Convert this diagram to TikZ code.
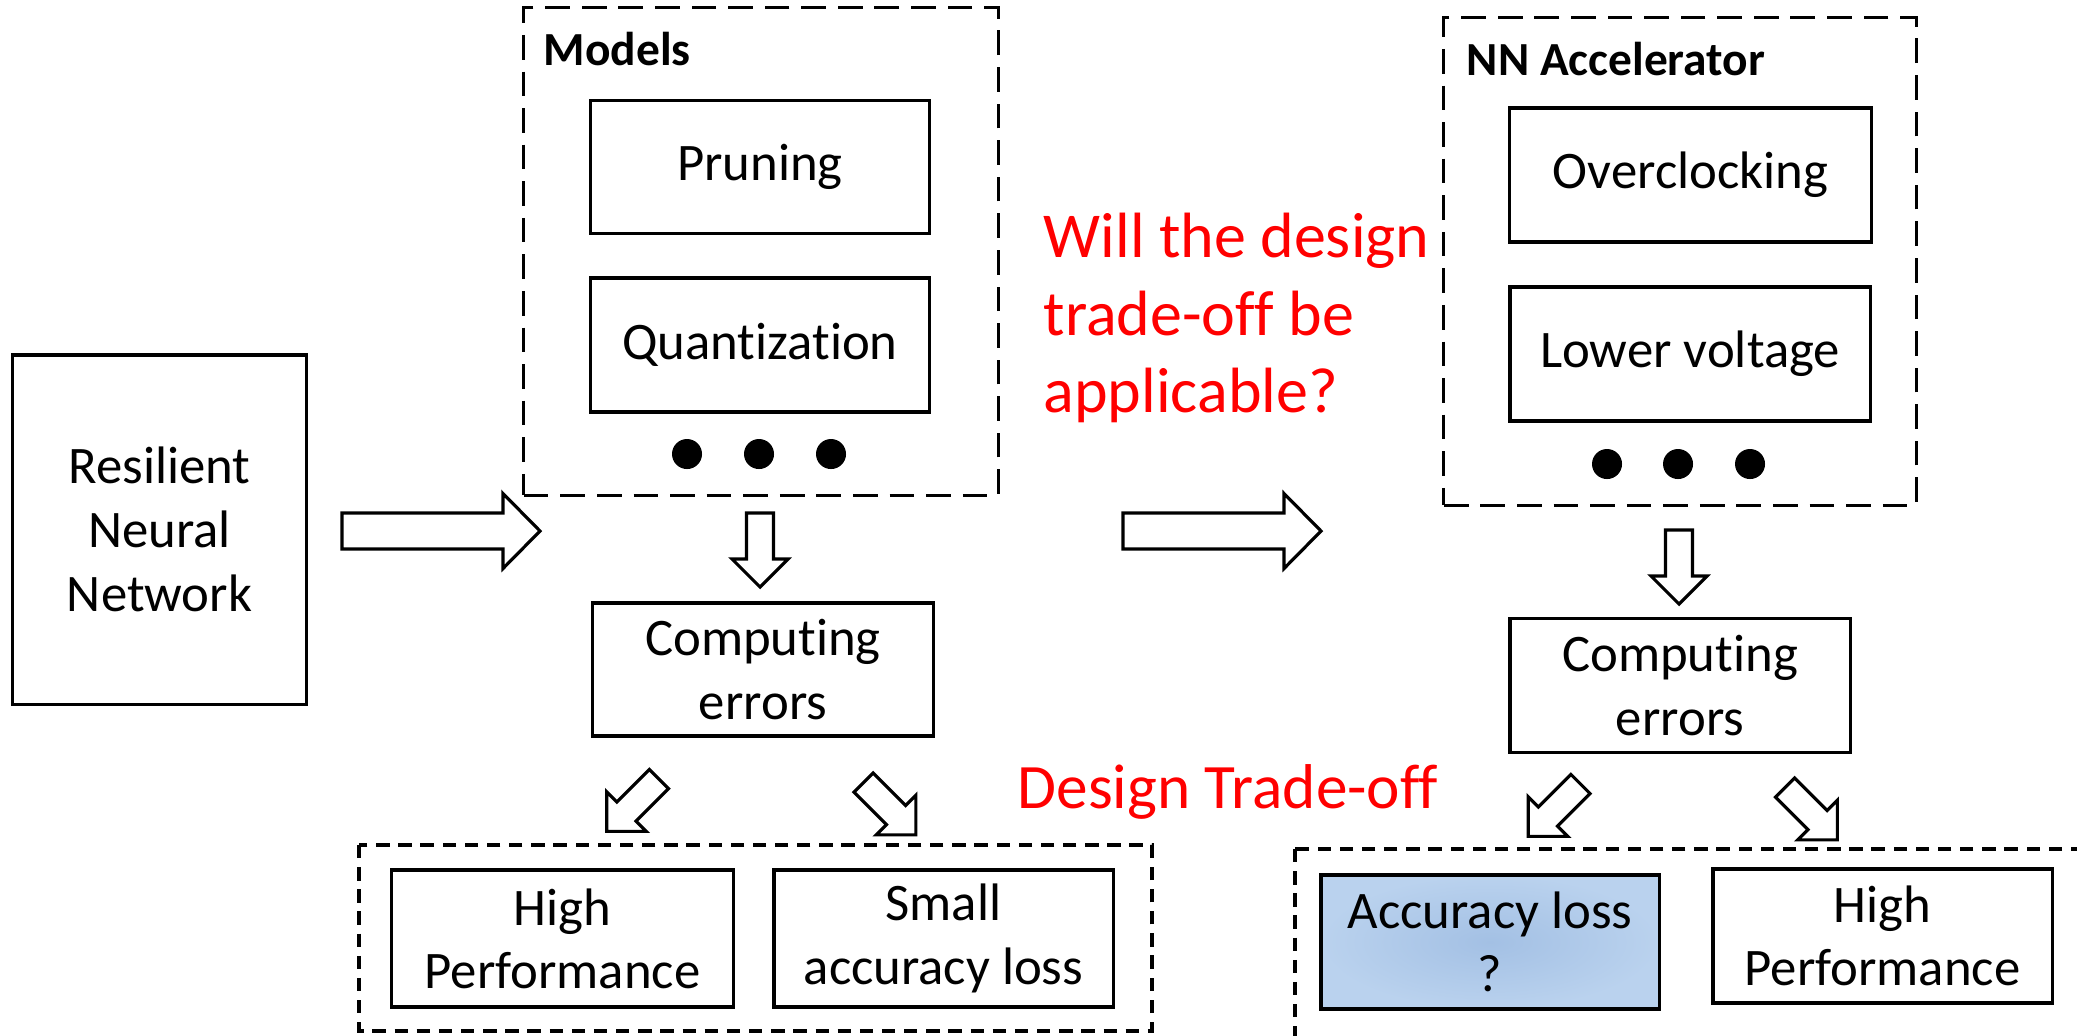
\documentclass[tikz,border=0pt]{standalone}
\usepackage{fontspec}
\setmainfont{Carlito}[Ligatures=NoCommon]
\definecolor{lossinner}{RGB}{163,192,228}
\definecolor{lossouter}{RGB}{186,210,238}
\tikzset{
  box/.style={draw, line width=0.9pt, inner sep=0pt, align=center,
    font=\fontsize{15}{18}\selectfont},
  group/.style={draw, line width=0.9pt, dash pattern=on 7pt off 3.4pt},
  tray/.style={draw, line width=0.9pt, dash pattern=on 3.8pt off 2.5pt},
  title/.style={inner sep=0pt, anchor=base west, font=\fontsize{13.5}{16}\selectfont\bfseries},
  remark/.style={inner sep=0pt, text=red, align=left, anchor=base west},
  dot/.style={circle, fill=black, inner sep=0pt, minimum size=0.30cm},
  outline/.style={draw, line width=0.9pt, fill=white, line join=miter},
  % wide hollow arrow, drawn along +x from its tail
  widearrow/.pic={\draw[outline] (0,-18) -- (161,-18) -- (161,-37.5) -- (198,0)
      -- (161,37.5) -- (161,18) -- (0,18) -- cycle;},
  % narrow hollow arrow, drawn along +x from its tail
  narrowarrow/.pic={\draw[outline] (0,-13.5) -- (46,-13.5) -- (46,-28) -- (74,0)
      -- (46,28) -- (46,13.5) -- (0,13.5) -- cycle;}
}
\begin{document}
\begin{tikzpicture}[x=0.01cm, y=-0.01cm]
\path[use as bounding box] (0,0) rectangle (2077,1035);
\clip (0,0) rectangle (2077,1035);

% input network
\node[box, minimum width=2.93cm, minimum height=3.49cm,
      font=\fontsize{15}{18.2}\selectfont] (rnn) at (159.5,529.5) {Resilient\\Neural\\Network};
\pic at (342,531) {widearrow};

% model-level techniques
\node[group, minimum width=4.74cm, minimum height=4.87cm] (models) at (761,251.5) {};
\node[title] (modelsT) at (543,65) {Models};
\node[box, minimum width=3.38cm, minimum height=1.33cm] (prune) at (760,167) {Pruning};
\node[box, minimum width=3.38cm, minimum height=1.34cm] (quant) at (760,345) {Quantization};
\foreach \i/\x in {1/687,2/759,3/831} \node[dot] (mdot\i) at (\x,454) {};
\pic[rotate=-90] at (760,513) {narrowarrow};
\node[box, minimum width=3.40cm, minimum height=1.33cm] (errA) at (763,669.5) {Computing\\errors};
\pic[rotate=-135] at (659,779) {narrowarrow};
\pic[rotate=-45] at (863.5,782.5) {narrowarrow};
\draw[tray] (359,845) rectangle (1152,1031);
\node[box, minimum width=3.41cm, minimum height=1.37cm] (perfA) at (562.5,938.5) {High\\Performance};
\node[box, minimum width=3.39cm, minimum height=1.37cm] (lossA) at (943.5,938.5) {Small\\accuracy loss};

% open question (base anchor sits on the last line)
\node[remark, font=\fontsize{18.2}{21.9}\selectfont] (question) at (1043,412)
  {Will the design\\trade-off be\\applicable?};
\pic at (1123,531) {widearrow};

% accelerator-level techniques
\node[group, minimum width=4.72cm, minimum height=4.87cm] (accel) at (1680,261.5) {};
\node[title] (accelT) at (1466,75) {NN Accelerator};
\node[box, minimum width=3.62cm, minimum height=1.34cm] (clock) at (1690.5,175) {Overclocking};
\node[box, minimum width=3.60cm, minimum height=1.34cm] (volt) at (1690,354) {Lower voltage};
\foreach \i/\x in {1/1607,2/1678,3/1750} \node[dot] (adot\i) at (\x,464) {};
\pic[rotate=-90] at (1679,530) {narrowarrow};
\node[box, minimum width=3.40cm, minimum height=1.34cm] (errB) at (1680,685.5) {Computing\\errors};
\node[remark, font=\fontsize{18}{21.6}\selectfont] (tradeoff) at (1017,808) {Design Trade-off};
\pic[rotate=-135] at (1580.5,784) {narrowarrow};
\pic[rotate=-45] at (1785,787.5) {narrowarrow};
\draw[tray] (1295,849) rectangle (2110,1060);
\node[box, minimum width=3.38cm, minimum height=1.34cm, inner color=lossinner,
      outer color=lossouter] (lossB) at (1490,942) {Accuracy loss\\?};
\node[box, minimum width=3.39cm, minimum height=1.34cm] (perfB) at (1882.5,936) {High\\Performance};
\end{tikzpicture}
\end{document}
